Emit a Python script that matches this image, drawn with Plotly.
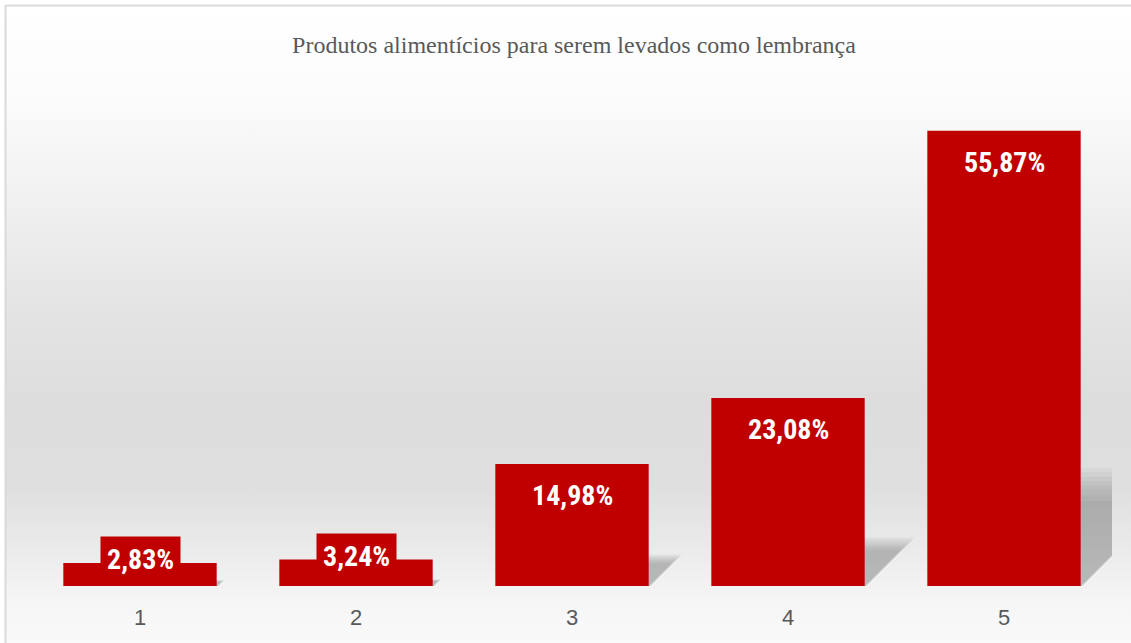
import base64
import plotly.graph_objects as go

# ---- data ----
categories = ["1", "2", "3", "4", "5"]
values = [2.83, 3.24, 14.98, 23.08, 55.87]
title_text = "Produtos alimentícios para serem levados como lembrança"

W, H = 1131, 643
BAR_COLOR = "#C00000"
LABEL_FONT = "Liberation Sans Narrow, Arial Narrow, Roboto Condensed, Liberation Sans, sans-serif"

# background gradient + frame as an SVG image
svg = f"""<svg xmlns='http://www.w3.org/2000/svg' width='{W}' height='{H}' viewBox='0 0 {W} {H}' preserveAspectRatio='none'>
<defs><linearGradient id='g' x1='0' y1='0' x2='0' y2='1'>
<stop offset='0' stop-color='#FFFFFF'/>
<stop offset='0.15' stop-color='#FBFBFB'/>
<stop offset='0.31' stop-color='#F0F0F0'/>
<stop offset='0.47' stop-color='#E4E4E4'/>
<stop offset='0.62' stop-color='#DDDDDD'/>
<stop offset='0.75' stop-color='#DFDFDF'/>
<stop offset='0.84' stop-color='#EAEAEA'/>
<stop offset='0.93' stop-color='#F6F6F6'/>
<stop offset='1' stop-color='#FAFAFA'/>
</linearGradient></defs>
<rect x='0' y='0' width='{W}' height='{H}' fill='#FFFFFF'/>
<rect x='6' y='6' width='{W}' height='{H}' fill='url(#g)'/>
<line x1='6' y1='5.5' x2='{W}' y2='5.5' stroke='#DADADA' stroke-width='2'/>
<line x1='5.5' y1='5' x2='5.5' y2='{H}' stroke='#DADADA' stroke-width='2'/>
</svg>"""
svg_uri = "data:image/svg+xml;base64," + base64.b64encode(svg.encode("utf-8")).decode()

ML, MR, MT, MB = 32, 19, 97, 57
PW, PH = W - ML - MR, H - MT - MB
YMAX = 60

fig = go.Figure()
fig.add_trace(go.Bar(
    x=list(range(len(categories))), y=values,
    marker=dict(color=BAR_COLOR, line=dict(width=0)),
    width=0.71, hoverinfo="skip",
))

# soft shadows behind bars (derived from the values), layered to fake a blur
shapes = []
half = 0.355
layers = [0.78, 0.83, 0.88, 0.92, 0.96, 1.00, 1.04, 1.08]
for i, v in enumerate(values):
    for sc in layers:
        hs = 0.24 * v * sc
        dx = hs * 0.0377
        xl, xr = i - half, i + half + 0.03 * (sc - 0.78)
        path = f"M {xl},0 L {xr},0 L {xr+dx},{hs} L {xl+dx},{hs} Z"
        shapes.append(dict(type="path", path=path, xref="x", yref="y",
                           fillcolor="rgba(0,0,0,0.032)", line=dict(width=0), layer="below"))

annotations = []
for i, v in enumerate(values):
    txt = f"{v:.2f}".replace(".", ",") + "%"
    if v < 10:
        annotations.append(dict(x=i, y=v, xref="x", yref="y", text=txt, showarrow=False,
                                yanchor="middle", yshift=3, bgcolor=BAR_COLOR, borderpad=6,
                                font=dict(family=LABEL_FONT, size=28, color="white", weight="bold")))
    else:
        annotations.append(dict(x=i, y=v, xref="x", yref="y", text=txt, showarrow=False,
                                yanchor="middle", yshift=-32,
                                font=dict(family=LABEL_FONT, size=28, color="white", weight="bold")))

fig.update_layout(
    width=W, height=H,
    margin=dict(l=ML, r=MR, t=MT, b=MB, pad=0, autoexpand=False),
    paper_bgcolor="rgba(0,0,0,0)", plot_bgcolor="rgba(0,0,0,0)",
    showlegend=False,
    title=dict(text=title_text, x=574 / W, xref="container", xanchor="center",
               y=1 - 45 / H, yref="container", yanchor="middle",
               font=dict(family="Liberation Serif, Times New Roman, serif", size=24, color="#595959")),
    xaxis=dict(tickmode="array", tickvals=list(range(len(categories))), ticktext=categories,
               range=[-0.5, len(categories) - 0.5], showgrid=False, zeroline=False, showline=False,
               automargin=False,
               ticks="outside", ticklen=12, tickcolor="rgba(0,0,0,0)",
               tickfont=dict(family="Liberation Sans, Arial, sans-serif", size=22, color="#595959")),
    yaxis=dict(range=[0, YMAX], visible=False, showgrid=False, zeroline=False, automargin=False),
    shapes=shapes,
    annotations=annotations,
    images=[dict(source=svg_uri, xref="paper", yref="paper",
                 x=-ML / PW, y=1 + MT / PH, sizex=W / PW, sizey=H / PH,
                 xanchor="left", yanchor="top", sizing="stretch", layer="below")],
)

fig.write_html("out.html", config={"displayModeBar": False},
               post_script="document.body.style.margin='0';document.body.style.overflow='hidden';")
